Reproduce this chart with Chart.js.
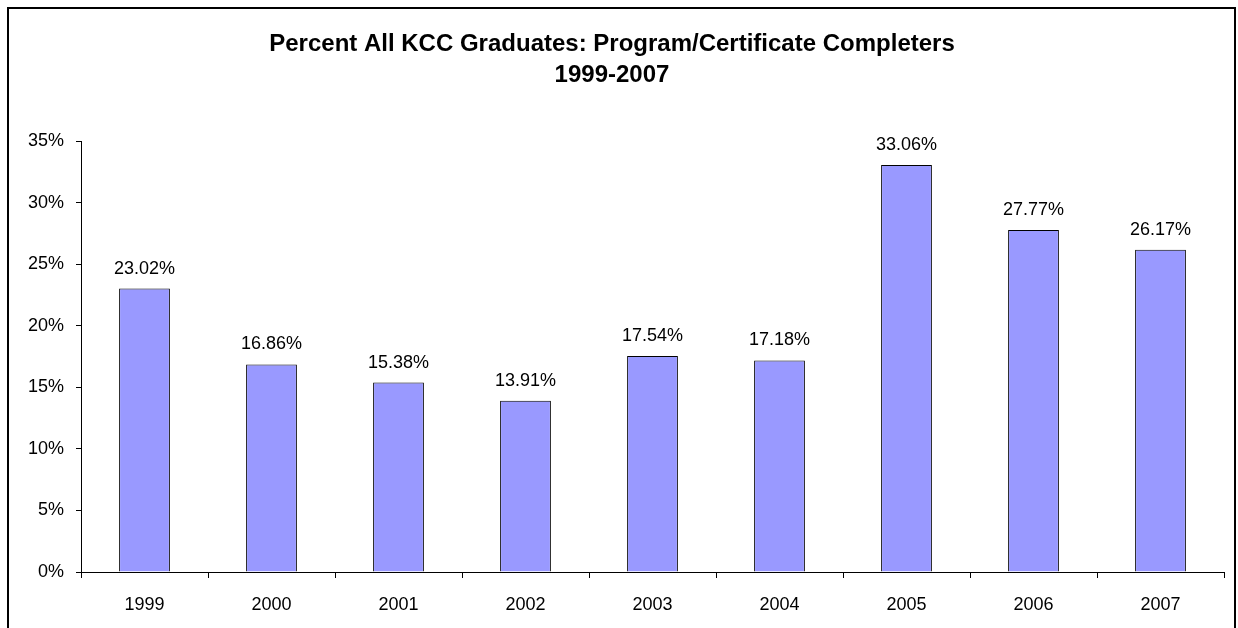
<!DOCTYPE html>
<html>
<head>
<meta charset="utf-8">
<script src="https://cdn.jsdelivr.net/npm/chart.js@4/dist/chart.umd.min.js"></script>
<style>
  html, body { margin: 0; padding: 0; background: #fff; }
  canvas { display: block; }
</style>
</head>
<body>
<canvas id="chart" width="1238" height="628"></canvas>
<script>
const years = ['1999', '2000', '2001', '2002', '2003', '2004', '2005', '2006', '2007'];
const completers = [23.02, 16.86, 15.38, 13.91, 17.54, 17.18, 33.06, 27.77, 26.17];
const titleLines = ['Percent All KCC Graduates: Program/Certificate Completers', '1999-2007'];

const FONT = "'Liberation Sans', Arial, sans-serif";

// frame round the whole chart
const framePlugin = {
  id: 'frame',
  beforeDraw(chart) {
    const ctx = chart.ctx;
    ctx.save();
    ctx.fillStyle = '#fff';
    ctx.fillRect(0, 0, chart.width, chart.height);
    ctx.strokeStyle = '#000';
    ctx.lineWidth = 2;
    ctx.strokeRect(8, 8, 1227, 660);
    ctx.restore();
  }
};

// value labels over the bars
const valueLabels = {
  id: 'valueLabels',
  afterDatasetsDraw(chart) {
    const ctx = chart.ctx;
    const meta = chart.getDatasetMeta(0);
    ctx.save();
    ctx.font = '18px ' + FONT;
    ctx.fillStyle = '#000';
    ctx.textAlign = 'center';
    ctx.textBaseline = 'alphabetic';
    meta.data.forEach((bar, i) => {
      ctx.fillText(completers[i].toFixed(2) + '%', bar.x, bar.y - 15);
    });
    ctx.restore();
  }
};

const ctx = document.getElementById('chart').getContext('2d');
new Chart(ctx, {
  type: 'bar',
  data: {
    labels: years,
    datasets: [{
      data: completers,
      backgroundColor: '#9999ff',
      borderColor: '#000',
      borderWidth: 1,
      barPercentage: 0.4,
      categoryPercentage: 1
    }]
  },
  options: {
    responsive: false,
    animation: false,
    layout: { padding: { left: 0, right: 14, top: 29, bottom: 0 } },
    plugins: {
      legend: { display: false },
      tooltip: { enabled: false },
      title: {
        display: true,
        text: titleLines,
        color: '#000',
        font: { family: FONT, size: 24, weight: 'bold', lineHeight: 1.3 },
        padding: { top: 0, bottom: 49.6 }
      }
    },
    scales: {
      x: {
        grid: { offset: true, drawOnChartArea: false, tickLength: 6, color: '#000' },
        border: { color: '#000' },
        ticks: { color: '#000', font: { family: FONT, size: 18 }, padding: 16 },
        afterFit(scale) { scale.height = 56; }
      },
      y: {
        min: 0,
        max: 35,
        grid: { drawOnChartArea: false, tickLength: 5, color: '#000' },
        border: { color: '#000' },
        ticks: {
          stepSize: 5,
          color: '#000',
          font: { family: FONT, size: 18 },
          padding: 12,
          callback: (v) => v + '%'
        },
        afterFit(scale) { scale.width = 81; }
      }
    }
  },
  plugins: [framePlugin, valueLabels]
});
</script>
</body>
</html>
